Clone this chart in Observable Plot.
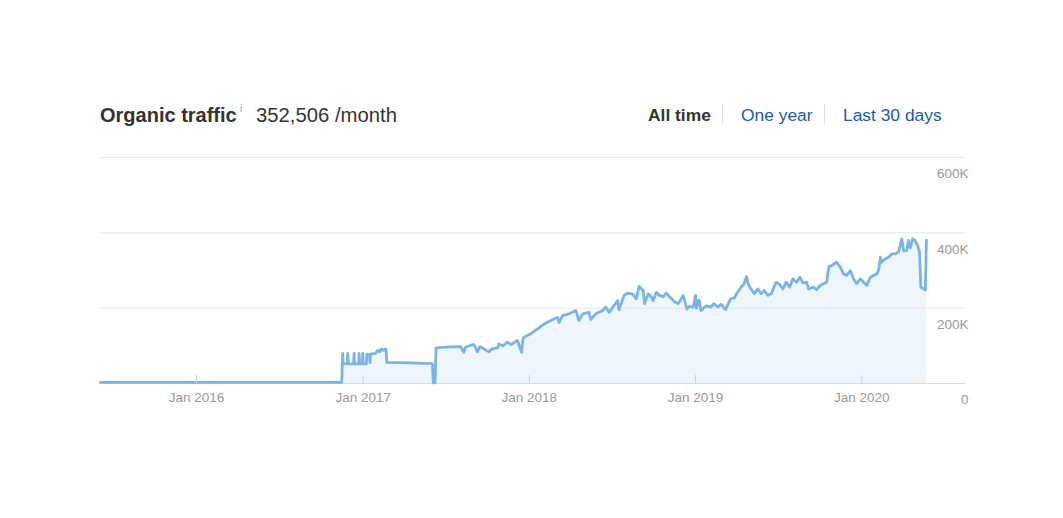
<!DOCTYPE html>
<html>
<head>
<meta charset="utf-8">
<script src="https://cdn.jsdelivr.net/npm/d3@7"></script>
<script src="https://cdn.jsdelivr.net/npm/@observablehq/plot@0.6"></script>
<style>
  html, body { margin: 0; padding: 0; background: #fff; }
  body { font-family: "Liberation Sans", Arial, Helvetica, sans-serif; width: 1063px; height: 518px; overflow: hidden; }
  #header { position: relative; width: 1063px; height: 145px; }
  #header span { position: absolute; white-space: nowrap; }
  .title { left: 100px; top: 105px; font-size: 20px; line-height: 20px; font-weight: bold; color: #333; }
  .info { left: 240px; top: 104px; font-size: 10px; line-height: 10px; color: #999; }
  .value { left: 256px; top: 105px; font-size: 20.3px; line-height: 20px; color: #333; }
  .tab { top: 107px; font-size: 17.4px; line-height: 17px; color: #1a5aaa; }
  .tab.active { font-weight: bold; color: #333; }
  .divider { top: 104px; width: 1px; height: 21px; background: #e0e0e0; }
  #chart svg { display: block; }
</style>
</head>
<body>
<div id="header">
  <span class="title">Organic traffic</span>
  <span class="info">i</span>
  <span class="value">352,506 /month</span>
  <span class="tab active" style="left:648px">All time</span>
  <span class="divider" style="left:722px"></span>
  <span class="tab" style="left:741px">One year</span>
  <span class="divider" style="left:824px"></span>
  <span class="tab" style="left:843px">Last 30 days</span>
</div>
<div id="chart"></div>
<script>
const dates = [
  "2015-06-04","2016-11-15","2016-11-16","2016-11-17","2016-11-18","2016-11-27","2016-11-28","2016-11-29",
  "2016-12-11","2016-12-12","2016-12-13","2016-12-22","2016-12-23","2016-12-24","2016-12-30","2016-12-31",
  "2017-01-01","2017-01-08","2017-01-09","2017-01-15","2017-01-16","2017-01-17","2017-01-28","2017-02-02",
  "2017-02-06","2017-02-10","2017-02-14","2017-02-20","2017-02-22","2017-04-15","2017-06-02","2017-06-04",
  "2017-06-08","2017-06-10","2017-06-20","2017-07-12","2017-08-03","2017-08-10","2017-08-14","2017-09-01",
  "2017-09-09","2017-09-14","2017-09-23","2017-10-04","2017-10-11","2017-10-24","2017-10-26","2017-11-04",
  "2017-11-14","2017-11-22","2017-11-30","2017-12-06","2017-12-15","2017-12-18","2017-12-20","2018-01-04",
  "2018-01-19","2018-02-02","2018-02-17","2018-03-04","2018-03-07","2018-03-15","2018-03-29","2018-04-13",
  "2018-04-20","2018-04-28","2018-05-12","2018-05-16","2018-05-27","2018-06-11","2018-06-18","2018-06-25",
  "2018-07-06","2018-07-14","2018-07-17","2018-07-28","2018-08-05","2018-08-16","2018-08-24","2018-08-30",
  "2018-09-08","2018-09-11","2018-09-19","2018-09-26","2018-09-30","2018-10-07","2018-10-14","2018-10-22",
  "2018-10-29","2018-11-05","2018-11-17","2018-11-24","2018-12-05","2018-12-13","2018-12-19","2018-12-27",
  "2019-01-01","2019-01-03","2019-01-09","2019-01-13","2019-01-24","2019-02-04","2019-02-10","2019-02-19",
  "2019-02-26","2019-03-08","2019-03-19","2019-03-27","2019-04-03","2019-04-11","2019-04-18","2019-04-23",
  "2019-04-27","2019-05-03","2019-05-10","2019-05-18","2019-05-25","2019-06-01","2019-06-09","2019-06-16",
  "2019-06-27","2019-07-05","2019-07-12","2019-07-19","2019-07-27","2019-08-03","2019-08-11","2019-08-18",
  "2019-08-25","2019-09-02","2019-09-06","2019-09-17","2019-09-24","2019-10-01","2019-10-09","2019-10-16",
  "2019-10-21","2019-10-27","2019-11-07","2019-11-15","2019-11-22","2019-11-29","2019-12-07","2019-12-14",
  "2019-12-21","2019-12-29","2020-01-05","2020-01-12","2020-01-20","2020-01-27","2020-02-03","2020-02-07",
  "2020-02-11","2020-02-14","2020-02-22","2020-02-29","2020-03-07","2020-03-15","2020-03-22","2020-03-29",
  "2020-04-02","2020-04-09","2020-04-13","2020-04-17","2020-04-22","2020-04-27","2020-05-03","2020-05-07",
  "2020-05-10","2020-05-16","2020-05-20","2020-05-22"
];
const traffic = [
  3000,3000,52000,80000,52000,52000,80000,52000,
  52000,80000,52000,52000,80000,52000,52000,80000,
  52000,52000,78000,75000,55000,78000,80000,88000,
  84000,92000,88000,92000,56000,55000,53000,2000,
  2000,94000,96000,97000,98000,83000,97000,104000,
  84000,98000,92000,84000,92000,95000,105000,100000,
  110000,103000,110000,114000,83000,118000,123000,132000,
  145000,158000,167000,176000,162000,180000,185000,194000,
  167000,185000,189000,170000,185000,194000,203000,189000,
  207000,220000,196000,234000,240000,237000,225000,258000,
  247000,212000,238000,230000,220000,242000,234000,230000,
  240000,230000,216000,212000,234000,198000,205000,203000,
  234000,200000,222000,194000,206000,203000,212000,203000,
  210000,196000,225000,227000,242000,256000,265000,284000,
  263000,251000,238000,251000,238000,247000,234000,238000,
  269000,263000,251000,269000,256000,278000,269000,282000,
  267000,269000,251000,256000,249000,260000,265000,269000,
  311000,313000,322000,309000,291000,287000,300000,278000,
  265000,278000,269000,260000,282000,287000,291000,300000,
  335000,322000,331000,335000,344000,344000,349000,384000,
  352000,353000,380000,360000,384000,380000,366000,349000,
  256000,251000,248000,380000
];
const yearTicks = ["2016-01-01","2017-01-01","2018-01-01","2019-01-01","2020-01-01"];
const yTicks = [0, 200000, 400000, 600000];
const xDomain = ["2015-06-04","2020-08-16"];

const parse = d3.utcParse("%Y-%m-%d");
const data = dates.map((d, i) => ({date: parse(d), value: traffic[i]}));
const years = yearTicks.map(parse);

const chart = Plot.plot({
  width: 1063,
  height: 268,
  marginLeft: 100,
  marginRight: 98,
  marginTop: 12,
  marginBottom: 30,
  style: {fontFamily: "'Liberation Sans', Arial, Helvetica, sans-serif", fontSize: "13.5px", background: "#fff"},
  x: {type: "utc", domain: xDomain.map(parse)},
  y: {domain: [0, 600000]},
  marks: [
    Plot.areaY(data, {x: "date", y: "value", fill: "#eef6fb"}),
    Plot.gridY(yTicks.filter(d => d > 0), {stroke: "#e6e6e6", strokeOpacity: 1}),
    Plot.ruleY([0], {stroke: "#dcdcdc"}),
    Plot.lineY(data, {x: "date", y: "value", stroke: "#7ab4e4", strokeWidth: 2.8, strokeLinejoin: "round"}),
    Plot.axisX({ticks: years, tickSize: 8, dy: -8, fill: "none", stroke: "#d0d0d0", label: null}),
    Plot.axisX({ticks: years, tickSize: 0, tickPadding: 9, tickFormat: d3.utcFormat("Jan %Y"), fill: "#999", label: null}),
    Plot.axisY({anchor: "right", ticks: yTicks, tickSize: 0, tickPadding: 3, textAnchor: "end", dy: 16.5,
      tickFormat: d => d === 0 ? "0" : (d / 1000) + "K", fill: "#999", label: null})
  ]
});
document.getElementById("chart").appendChild(chart);
</script>
</body>
</html>
